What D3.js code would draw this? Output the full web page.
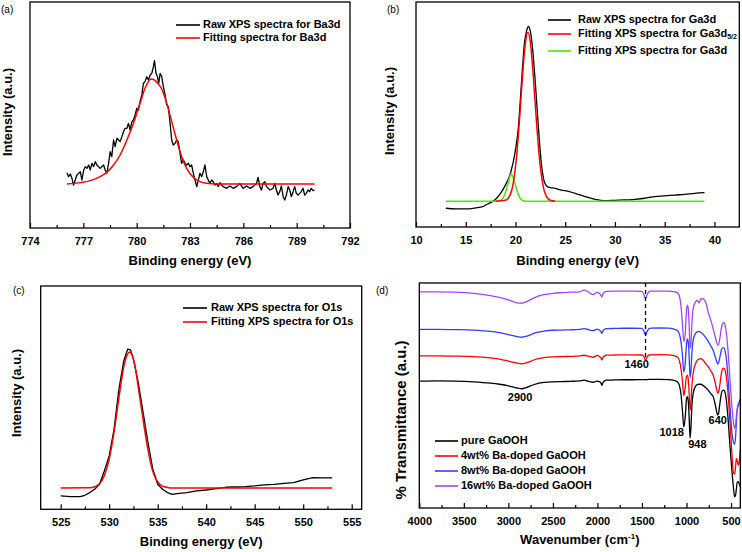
<!DOCTYPE html>
<html><head><meta charset="utf-8">
<script src="https://cdn.jsdelivr.net/npm/d3@7"></script>
<style>body{margin:0;background:#fff}svg{display:block}text{font-family:"Liberation Sans",Arial,sans-serif}</style>
</head><body><svg id="c" width="742" height="552"></svg>
<script>
// ---------- (a) Ba3d ----------
const baRawE=[776.08,776.17,776.27,776.36,776.45,
776.64,776.83,776.92,
777.02,777.11,777.20,777.30,777.39,777.48,777.58,777.67,777.76,777.86,777.95,778.04,778.14,778.23,778.32,778.42,778.51,778.60,778.70,778.79,778.89,778.98,779.07,779.17,779.26,779.35,779.45,779.54,779.63,779.73,779.82,779.91,780.01,780.10,780.19,780.29,780.38,780.47,780.57,780.66,780.76,780.85,780.94,781.00,781.09,781.17,781.24,781.32,781.41,781.50,781.60,781.69,781.78,781.88,781.97,782.06,782.16,782.25,782.34,782.44,782.53,782.63,782.72,782.81,782.91,783.00,783.09,783.19,783.28,783.38,783.47,783.56,783.66,783.75,783.84,783.94,784.03,784.12,784.22,784.31,784.40,784.50,784.59,784.68,784.78,784.87,
785.06,785.24,785.43,785.62,785.80,785.99,786.18,786.37,786.55,786.74,
786.83,
786.93,787.02,787.11,787.21,787.30,
787.49,787.67,
787.77,787.86,787.95,788.05,788.14,788.24,788.33,788.42,788.52,788.61,788.70,788.80,788.89,788.98,789.08,789.17,789.26,789.36,789.45,789.54,789.64,789.73,789.82,789.92,790.01];
const baRawI=[0.108,0.070,0.095,0.054,-0.010,
0.086,0.117,0.038,
0.133,0.165,0.149,0.181,0.133,0.197,0.165,0.213,0.181,0.165,0.149,0.165,0.181,0.133,0.102,0.197,0.308,0.260,0.419,0.356,0.435,0.419,0.403,0.451,0.498,0.530,0.530,0.578,0.514,0.594,0.610,0.657,0.721,0.705,0.784,0.848,0.959,0.975,1.022,0.990,1.038,1.054,1.117,1.175,1.054,1.022,0.959,1.054,1.022,0.927,0.848,0.752,0.737,0.578,0.419,0.371,0.387,0.419,0.403,0.292,0.197,0.229,0.197,0.181,0.197,0.165,0.181,0.102,0.038,-0.025,0.038,0.102,0.070,0.117,0.181,0.070,0.038,0.006,0.038,0.022,-0.010,0.006,-0.025,0.013,-0.010,-0.025,
-0.041,-0.019,-0.041,-0.025,0.006,-0.041,-0.019,-0.041,-0.025,0.006,
0.063,
-0.025,-0.057,0.006,0.022,-0.025,
-0.057,-0.041,
0.006,-0.057,-0.105,-0.073,-0.019,-0.121,-0.152,-0.105,-0.025,-0.057,-0.121,-0.073,-0.025,-0.089,-0.105,-0.089,-0.073,-0.041,-0.105,-0.089,-0.057,-0.073,-0.041,-0.063,-0.057];
const baFitE=[776.08,776.83,777.39,777.86,778.32,778.70,779.07,779.45,779.82,780.19,780.47,780.66,780.80,780.95,781.13,781.41,781.69,781.97,782.25,782.53,782.81,783.19,783.56,783.94,784.50,790.01];
const baFitI=[0,0.013,0.032,0.063,0.111,0.181,0.276,0.419,0.578,0.768,0.911,0.975,1.0,0.995,0.970,0.905,0.768,0.594,0.419,0.260,0.149,0.063,0.022,0.006,0,0];

// ---------- (b) Ga3d ----------
const gaRawE=[13.0,14,15,16,16.7,17,17.5,18,18.5,19,19.5,20,20.3,20.6,20.9,21.1,21.3,21.5,21.7,22.0,22.3,22.6,22.9,23.2,23.5,24,24.5,25,26,27,28,29,30,31,32,33,34,35,36,37,38,39];
const gaRawI=[-0.041,-0.045,-0.045,-0.039,-0.032,-0.022,-0.008,0.012,0.047,0.097,0.166,0.304,0.442,0.698,0.935,1.004,1.034,1.004,0.915,0.698,0.442,0.225,0.116,0.087,0.081,0.077,0.067,0.063,0.047,0.028,0.012,0.004,0.006,0.008,0.012,0.018,0.028,0.032,0.037,0.041,0.047,0.051];
const ga52FitE=[18.0,19.0,19.5,19.8,20.1,20.4,20.7,21.0,21.25,21.5,21.8,22.1,22.4,22.7,23.0,23.5,24.0];
const ga52FitI=[0,0.006,0.044,0.117,0.259,0.478,0.734,0.938,1.0,0.938,0.734,0.478,0.259,0.117,0.044,0.006,0];
const ga3dFitE=[13.0,18.0,18.5,18.8,19.0,19.2,19.4,19.55,19.7,19.9,20.1,20.3,20.5,20.8,21.0,39.0];
const ga3dFitI=[0,0,0.006,0.025,0.055,0.095,0.140,0.162,0.150,0.118,0.075,0.038,0.015,0.003,0,0];

// ---------- (c) O1s ----------
const oRawE=[525.0,526,527,527.5,528,528.5,529,529.5,530,530.5,531,531.5,531.9,532.2,532.5,533,533.5,534,534.5,535,535.5,536,536.5,537,538,539,540,541,542,543,544,545,546,547,548,549,550,551,552,553];
const oRawI=[-0.059,-0.064,-0.064,-0.054,-0.034,-0.010,0.027,0.125,0.235,0.431,0.725,0.934,1.020,1.015,0.946,0.775,0.554,0.333,0.137,0.027,-0.010,-0.034,-0.047,-0.042,-0.034,-0.022,-0.015,-0.005,0.005,0.007,0.010,0.015,0.022,0.027,0.034,0.039,0.059,0.076,0.074,0.074];
const oFitE=[525,528,528.5,529,529.5,530,530.5,531,531.5,532.1,532.6,533,533.5,534,534.5,535,535.5,536,536.5,553];
const oFitI=[0,0.001,0.009,0.03,0.09,0.21,0.41,0.66,0.89,1.0,0.92,0.74,0.5,0.28,0.12,0.045,0.014,0.004,0,0];

// ---------- (d) FTIR ----------
const wavenumber=[4000,3800,3600,3400,3200,3100,3000,2950,2900,2850,2800,2750,2700,2600,2500,2400,2300,2200,2150,2100,2050,2000,1980,1960,1950,1940,1920,1900,1800,1700,1600,1500,1480,1460,1440,1420,1400,1300,1200,1150,1100,1080,1060,1045,1030,1015,1000,990,980,970,960,950,940,925,900,880,860,840,820,800,780,760,740,720,700,680,660,650,640,625,610,595,580,565,550,535,520,505,490,475,460,450,440,430,420,410,400,396];
const tPure=[56.4,56.5,56.4,56.1,55.5,55.0,54.3,53.8,53.3,53.0,53.5,54.3,55.0,55.8,56.1,56.2,56.3,56.5,56.8,56.3,55.9,56.4,56.2,55.5,54.5,55.6,56.5,56.8,56.9,57.0,57.0,57.1,57.1,57.0,57.1,57.2,57.2,57.2,57.1,56.8,56.0,54.5,50.0,43.0,36.0,40.0,48.5,49.5,47.5,40.0,31.0,36.0,45.0,51.0,54.0,54.8,55.0,55.0,54.6,54.0,53.3,52.5,51.5,50.5,49.5,46.5,42.5,41.3,42.0,46.5,50.5,52.2,52.4,51.0,47.0,40.5,32.0,24.0,16.5,10.0,5.0,5.5,8.5,11.5,11.7,11.0,10.0,9.5];
const t4wt=[67.6,67.6,67.5,67.3,66.7,66.2,65.3,64.8,64.4,64.1,64.5,65.2,66.0,66.8,67.2,67.3,67.4,67.6,67.9,67.5,67.0,67.8,67.4,66.6,65.8,66.8,67.6,67.9,68.0,68.1,68.1,68.0,67.4,65.8,67.3,68.0,68.1,68.2,68.1,67.8,67.0,65.5,61.5,56.0,50.0,53.5,58.5,59.0,57.0,51.0,43.5,47.0,54.0,60.0,64.0,65.5,66.2,66.4,66.0,65.0,64.0,63.0,61.8,60.5,59.0,56.0,52.5,51.0,51.5,55.0,59.5,61.8,62.2,61.0,57.5,51.5,43.0,34.0,24.0,16.0,15.0,18.0,22.0,21.0,19.0,20.0,24.0,26.0];
const t8wt=[79.4,79.4,79.3,79.1,78.5,77.9,77.1,76.6,76.2,75.9,76.3,77.0,77.8,78.6,79.0,79.1,79.2,79.4,79.7,79.3,78.8,79.5,79.1,78.3,77.6,78.6,79.4,79.7,79.8,79.9,79.9,79.8,78.8,76.9,78.6,79.7,79.9,80.0,79.9,79.6,78.8,77.3,73.5,67.5,60.5,64.0,73.0,75.2,73.5,67.0,58.0,61.0,68.5,74.5,77.5,78.3,78.5,78.0,77.5,76.5,75.5,74.3,73.0,71.5,70.0,67.5,65.0,64.0,64.5,67.0,70.0,71.2,71.2,69.5,65.5,58.5,50.0,41.0,33.5,29.5,28.3,31.0,38.0,44.0,46.0,47.0,48.0,48.5];
const t16wt=[96.1,96.1,95.9,95.4,94.4,93.6,92.5,91.8,91.2,91.0,91.6,92.6,93.6,94.8,95.4,95.7,95.9,96.1,96.8,96.0,94.8,95.8,95.4,94.5,93.8,95.0,96.0,96.3,96.4,96.4,96.4,96.3,95.0,93.0,95.0,96.2,96.4,96.4,96.4,96.2,95.6,94.2,89.0,81.5,74.0,77.0,88.0,90.2,88.5,81.0,71.0,73.0,81.5,88.5,91.5,92.3,91.2,92.8,93.0,92.5,91.0,87.5,85.0,82.5,79.5,76.5,73.5,72.4,72.6,75.5,79.5,82.0,82.4,81.0,77.0,70.5,62.0,53.0,45.0,39.0,35.5,36.5,41.0,44.0,45.0,46.0,47.0,47.5];
const ftirNames=["pure GaOOH","4wt% Ba-doped GaOOH","8wt% Ba-doped GaOOH","16wt% Ba-doped GaOOH"];
const ftirPeakLabels=["2900","1460","1018","948","640"];
const ftirPeakX=[2869,1559,1166,878,649];
const ftirPeakY=[49.0,63.6,33.2,28.0,38.7];

// ticks
const ticksA=[774,777,780,783,786,789,792], minorA=[775.5,778.5,781.5,784.5,787.5,790.5];
const ticksB=[10,15,20,25,30,35,40], minorB=[12.5,17.5,22.5,27.5,32.5,37.5];
const ticksC=[525,530,535,540,545,550,555], minorC=[527.5,532.5,537.5,542.5,547.5,552.5];
const ticksD=[4000,3500,3000,2500,2000,1500,1000,500], minorD=[3750,3250,2750,2250,1750,1250,750];

const svg=d3.select("#c");
const RED="#ff0000", GREEN="#44ee00", BLUE="#2f3fff", PURPLE="#a345ff";

function panel(c){
  const x=d3.scaleLinear().domain(c.xd).range([c.x0,c.x1]);
  const y=d3.scaleLinear().domain(c.yd).range([c.y1,c.y0]);
  const g=svg.append("g");
  const clip="clip"+Math.random().toString(36).slice(2);
  g.append("clipPath").attr("id",clip).append("rect").attr("x",c.x0).attr("y",c.y0).attr("width",c.x1-c.x0).attr("height",c.y1-c.y0);
  const plot=g.append("g").attr("clip-path",`url(#${clip})`);
  const axM=d3.axisBottom(x).tickValues(c.major).tickSize(-5).tickPadding(9).tickFormat(d3.format("d"));
  const axm=d3.axisBottom(x).tickValues(c.minor).tickSize(-3).tickFormat("");
  const a1=g.append("g").attr("transform",`translate(0,${c.y1})`).call(axM);
  const a2=g.append("g").attr("transform",`translate(0,${c.y1})`).call(axm);
  [a1,a2].forEach(a=>{a.select(".domain").remove();a.selectAll("line").attr("stroke","#000").attr("stroke-width",1.2);});
  a1.selectAll("text").attr("font-size",11).attr("font-weight","bold").attr("fill","#000");
  g.append("rect").attr("x",c.x0).attr("y",c.y0).attr("width",c.x1-c.x0).attr("height",c.y1-c.y0).attr("fill","none").attr("stroke","#000").attr("stroke-width",1.3);
  const xt=g.append("text").attr("x",(c.x0+c.x1)/2).attr("y",c.xtY).attr("text-anchor","middle").attr("dominant-baseline","middle").attr("font-size",13).attr("font-weight","bold").text(c.xTitle);
  if(c.xSup){xt.append("tspan").attr("font-size",8).attr("baseline-shift","super").text(c.xSup);xt.append("tspan").text(")");}
  g.append("text").attr("transform",`translate(${c.ytX},${c.ytY}) rotate(-90)`).attr("text-anchor","middle").attr("dominant-baseline","middle").attr("font-size",c.ytSize||13).attr("font-weight","bold").text(c.yTitle);
  g.append("text").attr("x",c.lx).attr("y",c.ly).attr("font-size",10).text(c.label);
  return {x,y,plot,g};
}
function drawLine(p,xs,ys,color,w,curve){
  const pts=xs.map((v,i)=>[v,ys[i]]);
  p.plot.append("path").datum(pts).attr("fill","none").attr("stroke",color).attr("stroke-width",w).attr("stroke-linejoin","round")
   .attr("d",d3.line().x(d=>p.x(d[0])).y(d=>p.y(d[1])).curve(curve||d3.curveLinear));
}
function legend(g,items,x1,x2,tx,ys){
  items.forEach((it,i)=>{
    g.append("line").attr("x1",x1).attr("x2",x2).attr("y1",ys[i]).attr("y2",ys[i]).attr("stroke",it.c).attr("stroke-width",1.6);
    const t=g.append("text").attr("x",tx).attr("y",ys[i]).attr("dominant-baseline","middle").attr("font-size",11).attr("font-weight","bold").text(it.t);
    if(it.sub) t.append("tspan").attr("font-size",7).attr("baseline-shift","sub").text(it.sub);
  });
}

// (a)
const pa=panel({x0:30,x1:350,y0:2,y1:228,xd:[774,792],yd:[-0.419,1.733],major:ticksA,minor:minorA,xTitle:"Binding energy (eV)",xtY:262,yTitle:"Intensity (a.u.)",ytX:9,ytY:112,label:"(a)",lx:1,ly:13});
drawLine(pa,baRawE,baRawI,"#000",1.3);
drawLine(pa,baFitE,baFitI,RED,1.5,d3.curveMonotoneX);
legend(pa.g,[{c:"#000",t:"Raw XPS spectra for Ba3d"},{c:RED,t:"Fitting spectra for Ba3d"}],176,200,203,[25,38]);

// (b)
const pb=panel({x0:416,x1:739.3,y0:2,y1:227,xd:[10,42.5],yd:[-0.152,1.179],major:ticksB,minor:minorB,xTitle:"Binding energy (eV)",xtY:262,yTitle:"Intensity (a.u.)",ytX:391,ytY:111,label:"(b)",lx:387,ly:13});
drawLine(pb,gaRawE,gaRawI,"#000",1.3,d3.curveMonotoneX);
drawLine(pb,ga3dFitE,ga3dFitI,GREEN,1.5,d3.curveMonotoneX);
drawLine(pb,ga52FitE,ga52FitI,RED,1.5,d3.curveMonotoneX);
legend(pb.g,[{c:"#000",t:"Raw XPS spectra for Ga3d"},{c:RED,t:"Fitting XPS spectra for Ga3d",sub:"5/2"},{c:GREEN,t:"Fitting XPS spectra for Ga3d"}],548,571,578,[20,34,51]);

// (c)
const pc=panel({x0:40.7,x1:361.7,y0:286,y1:509.3,xd:[522.94,556.03],yd:[-0.157,1.485],major:ticksC,minor:minorC,xTitle:"Binding energy (eV)",xtY:543,yTitle:"Intensity (a.u.)",ytX:18,ytY:393,label:"(c)",lx:13,ly:294});
drawLine(pc,oRawE,oRawI,"#000",1.3);
drawLine(pc,oFitE,oFitI,RED,1.5,d3.curveMonotoneX);
legend(pc.g,[{c:"#000",t:"Raw XPS spectra for O1s"},{c:RED,t:"Fitting XPS spectra for O1s"}],183,207,211,[308,322]);

// (d)
const pd=panel({x0:419.3,x1:740.3,y0:283,y1:508,xd:[4000,396],yd:[0,100],major:ticksD,minor:minorD,xTitle:"Wavenumber (cm",xSup:"-1",xtY:541,yTitle:"% Transmittance (a.u.)",ytX:402,ytY:420,ytSize:15,label:"(d)",lx:376,ly:294});
const ftirSeries=[tPure,t4wt,t8wt,t16wt], ftirColors=["#000",RED,BLUE,PURPLE];
ftirSeries.forEach((s,i)=>drawLine(pd,wavenumber,s,ftirColors[i],1.3,d3.curveMonotoneX));
pd.g.append("line").attr("x1",pd.x(1460)).attr("x2",pd.x(1460)).attr("y1",pd.y(100)).attr("y2",pd.y(67)).attr("stroke","#000").attr("stroke-width",1.3).attr("stroke-dasharray","4,3");
ftirPeakLabels.forEach((t,i)=>pd.g.append("text").attr("x",pd.x(ftirPeakX[i])).attr("y",pd.y(ftirPeakY[i])).attr("text-anchor","middle").attr("dominant-baseline","middle").attr("font-size",11).attr("font-weight","bold").text(t));
legend(pd.g,ftirNames.map((n,i)=>({c:ftirColors[i],t:n})),435,458,461,[441,456,471,486]);
</script></body></html>
